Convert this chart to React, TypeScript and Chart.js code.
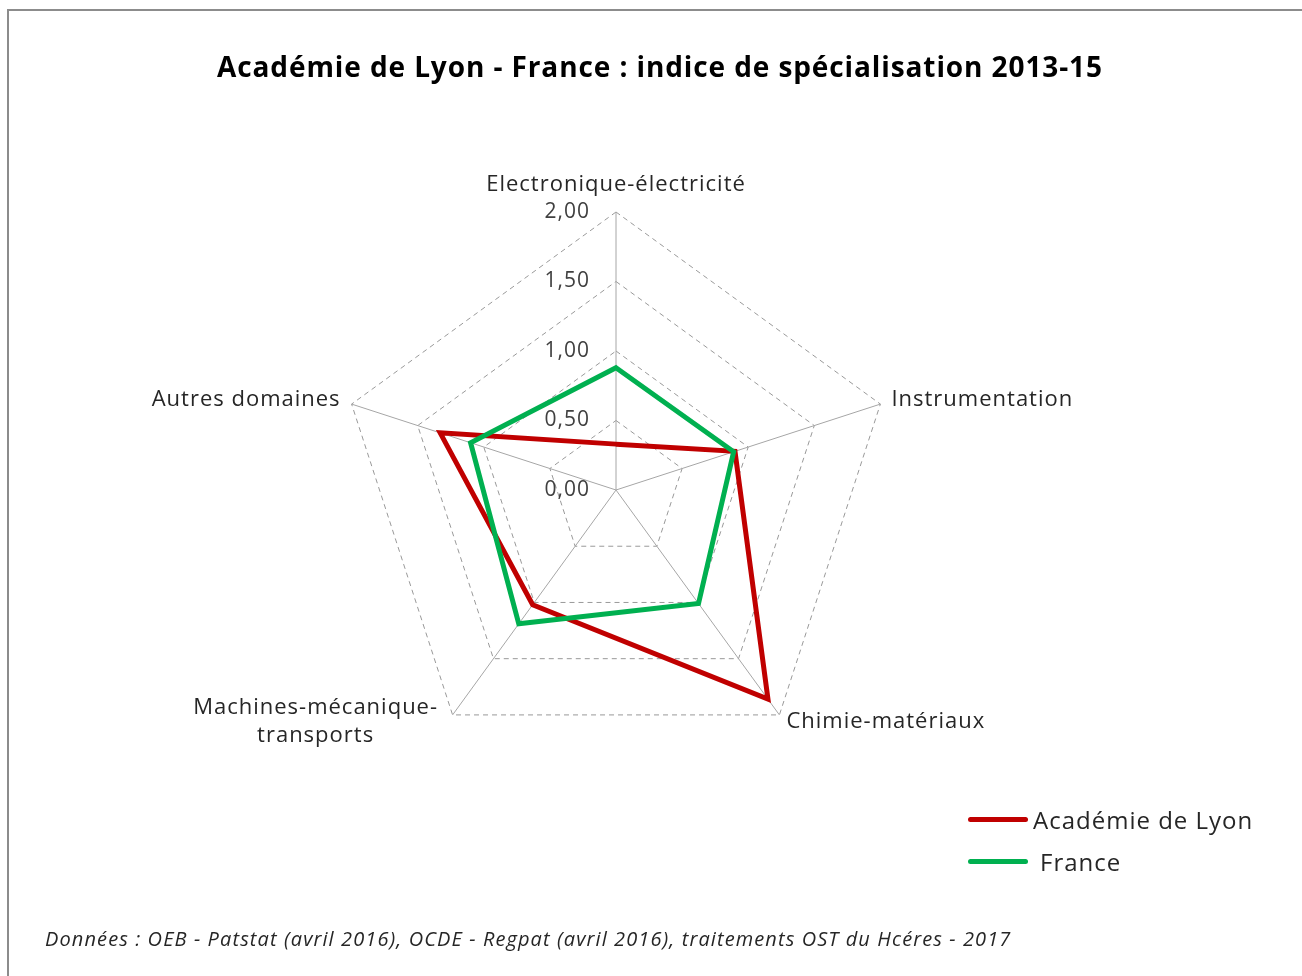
import React, { useEffect, useRef } from "react";
import { Chart, registerables } from "chart.js";

Chart.register(...registerables);

const categories: (string | string[])[] = [
  "Electronique-électricité",
  "Instrumentation",
  "Chimie-matériaux",
  ["Machines-mécanique-", "transports"],
  "Autres domaines",
];
const lyonValues = [0.33, 0.9, 1.86, 1.02, 1.33];
const franceValues = [0.88, 0.89, 1.01, 1.19, 1.1];
const tickValues = [0, 0.5, 1, 1.5, 2];
const tickLabels = ["0,00", "0,50", "1,00", "1,50", "2,00"];
const seriesNames = ["Académie de Lyon", "France"];
const seriesColors = ["#C00000", "#00B050"];

const titleText = "Académie de Lyon - France : indice de spécialisation 2013-15";
const sourceText =
  "Données : OEB - Patstat (avril 2016), OCDE - Regpat (avril 2016), traitements OST du Hcéres - 2017";

const FONT = "'Open Sans', 'DejaVu Sans', sans-serif";
const TEXT_COLOR = "#262626";

// label placement relative to each axis end (style only)
const pointLabelPlacement = [
  { dx: 0, dy: -27, align: "center" },
  { dx: 11, dy: -4, align: "left" },
  { dx: 7, dy: 7, align: "left" },
  { dx: -137, dy: -7, align: "center" },
  { dx: -11, dy: -4, align: "right" },
];

const textPlugin = {
  id: "radarText",
  afterDraw(chart: any) {
    const scale = chart.scales.r;
    const ctx = chart.ctx as any;
    ctx.save();
    // tick labels
    ctx.font = `21px ${FONT}`;
    ctx.letterSpacing = "1px";
    ctx.fillStyle = "#404040";
    ctx.textAlign = "right";
    ctx.textBaseline = "middle";
    tickValues.forEach((v, i) => {
      const p = scale.getPointPositionForValue(0, v);
      ctx.fillText(tickLabels[i], p.x - 26, p.y);
    });
    // point labels
    ctx.font = `22px ${FONT}`;
    ctx.letterSpacing = "1px";
    ctx.fillStyle = TEXT_COLOR;
    categories.forEach((lab, i) => {
      const p = scale.getPointPosition(i, scale.drawingArea);
      const pl = pointLabelPlacement[i];
      ctx.textAlign = pl.align as CanvasTextAlign;
      const lines = Array.isArray(lab) ? lab : [lab];
      lines.forEach((line, j) => {
        ctx.fillText(line, p.x + pl.dx, p.y + pl.dy + j * 28);
      });
    });
    ctx.restore();
  },
};

export default function App() {
  const canvasRef = useRef<HTMLCanvasElement | null>(null);

  useEffect(() => {
    if (!canvasRef.current) return;
    const chart = new Chart(canvasRef.current, {
      type: "radar",
      data: {
        labels: categories as any,
        datasets: [
          {
            label: seriesNames[0],
            data: lyonValues,
            borderColor: seriesColors[0],
            backgroundColor: "transparent",
            borderWidth: 5,
            pointRadius: 0,
            fill: false,
            borderJoinStyle: "miter",
            order: 1,
          },
          {
            label: seriesNames[1],
            data: franceValues,
            borderColor: seriesColors[1],
            backgroundColor: "transparent",
            borderWidth: 5,
            pointRadius: 0,
            fill: false,
            borderJoinStyle: "miter",
            order: 0,
          },
        ],
      },
      options: {
        animation: false,
        responsive: true,
        maintainAspectRatio: false,
        layout: { padding: { top: 212, bottom: 207, left: 338, right: 407 } },
        plugins: {
          legend: { display: false },
          title: { display: false },
          tooltip: { enabled: false },
        },
        scales: {
          r: {
            min: 0,
            max: 2,
            ticks: { display: false, stepSize: 0.5 },
            pointLabels: { display: false },
            grid: { color: "#999999", lineWidth: 1, circular: false },
            border: { dash: [5, 4] } as any,
            angleLines: { color: "#a6a6a6", lineWidth: 1, borderDash: [] },
          },
        },
      },
      plugins: [textPlugin],
    });
    return () => chart.destroy();
  }, []);

  return (
    <div
      style={{
        position: "absolute",
        left: 0,
        top: 0,
        width: 1302,
        height: 976,
        overflow: "hidden",
        background: "#fff",
        fontFamily: FONT,
      }}
    >
      <div
        style={{
          position: "absolute",
          left: 7,
          top: 9,
          width: 1400,
          height: 1100,
          border: "2px solid #8c8c8c",
        }}
      />
      <div style={{ position: "absolute", left: 0, top: 0, width: 1302, height: 976 }}>
        <canvas ref={canvasRef} />
      </div>
      <div
        style={{
          position: "absolute",
          left: 110,
          width: 1100,
          top: 47,
          textAlign: "center",
          fontWeight: 700,
          fontSize: 28,
          letterSpacing: "0.9px",
          lineHeight: "38px",
          color: "#000",
          whiteSpace: "nowrap",
        }}
      >
        {titleText}
      </div>
      {seriesNames.map((name, i) => (
        <div
          key={name}
          style={{
            position: "absolute",
            left: 968,
            top: 802 + i * 42,
            height: 34,
            display: "flex",
            alignItems: "center",
            whiteSpace: "nowrap",
          }}
        >
          <span
            style={{
              display: "inline-block",
              width: 60,
              height: 5,
              borderRadius: 3,
              background: seriesColors[i],
              marginRight: i === 0 ? 5 : 12,
            }}
          />
          <span style={{ fontSize: 24, letterSpacing: "1px", color: TEXT_COLOR }}>{name}</span>
        </div>
      ))}
      <div
        style={{
          position: "absolute",
          left: 45,
          top: 925,
          fontSize: 20,
          letterSpacing: "1.1px",
          lineHeight: "28px",
          fontStyle: "italic",
          color: TEXT_COLOR,
          whiteSpace: "nowrap",
        }}
      >
        {sourceText}
      </div>
    </div>
  );
}
